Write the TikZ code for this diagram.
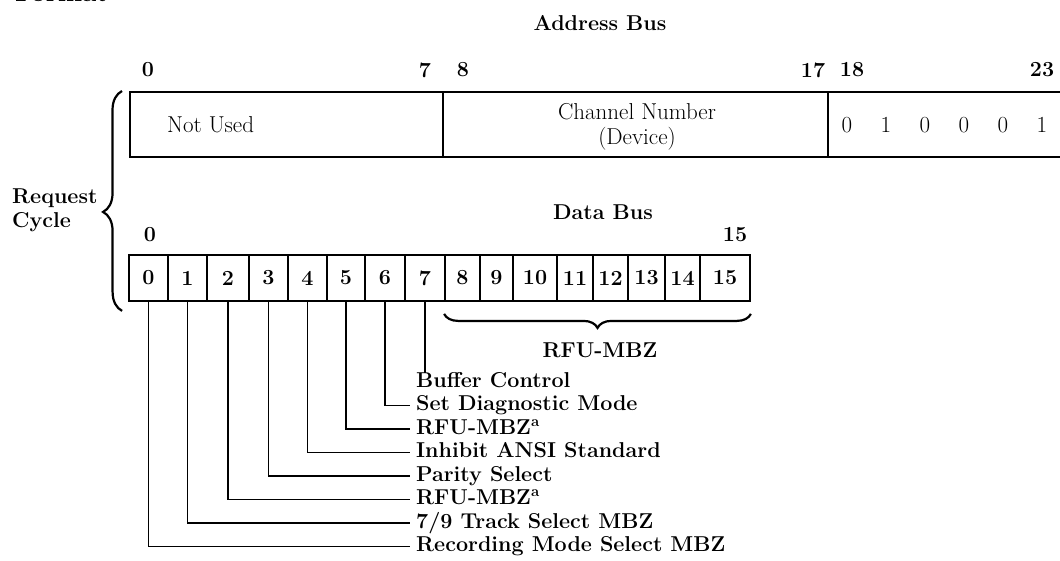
\documentclass[tikz,border=0pt]{standalone}
\usetikzlibrary{decorations.pathreplacing,positioning}

\begin{document}
\begin{tikzpicture}[x=1pt,y=-1pt,every node/.style={font=\bfseries\fontsize{21.5}{24}\selectfont,inner sep=0pt},lite/.style={font=\fontsize{23}{25}\selectfont},field/.style={draw,line width=2pt,minimum height=65pt},cell/.style={draw,line width=1.8pt,minimum height=46pt},lead/.style={line width=1.7pt},bitlbl/.style={anchor=west,inner xsep=6pt,text height=14pt,text depth=4pt},brc/.style={decorate,line width=2.2pt}]
\fill[white] (0,0) rectangle (1060,560);
\useasboundingbox (0,0) rectangle (1060,560);

\node[font=\bfseries\fontsize{26}{28}\selectfont,anchor=base west] (fmt) at (15,1.5) {Format};
\node (abus) at (600,23) {Address Bus};
\foreach \t/\x in {0/148,7/425,8/463,17/813,18/852,23/1042} \node (a\t) at (\x,70) {\t};

\node[field,minimum width=313pt] (notused) at (286.5,124.5) {}; \node[field,minimum width=385pt] (chan) at (635.5,124.5) {}; \node[field,minimum width=250pt] (code) at (953,124.5) {};
\node[lite,anchor=west] (nu) at (167,125) {Not Used};
\node[lite,align=center] (chn) at (637,127) {Channel Number\\(Device)};
\foreach \b [count=\k] in {0,1,0,0,0,1} \node[lite] (d\k) at (808+39*\k,125) {\b};

\node[align=left,anchor=west] (req) at (12,210) {Request\\Cycle};
\node (dbus) at (603,212) {Data Bus};
\node (b0) at (150,235) {0}; \node (b15) at (735,235) {15};
\foreach \i/\l/\r in {0/129/168,1/168/207,2/207/249,3/249/288,4/288/327,5/327/365,6/365/405,7/405/445,8/445/480,9/480/513,10/513/557,11/557/593,12/593/628,13/628/665,14/665/700,15/700/750} \node[cell,minimum width={(\r-\l)*1pt}] (c\i) at ({(\l+\r)/2},278) {\i};

\draw[brc,decoration={brace,amplitude=19pt,aspect=0.45}] ([xshift=-6pt,yshift=-9pt]c0.south west) -- ([xshift=-7pt]notused.north west);
\draw[brc,decoration={brace,mirror,amplitude=14pt}] ([yshift=-12pt]c8.south west) -- ([yshift=-12pt]c15.south east);
\node (rfu) at (600,350) {RFU-MBZ};

\foreach \i/\t [count=\k from 0] in {7/{Buffer Control},6/{Set Diagnostic Mode},5/{RFU-MBZ\textsuperscript{a}},4/{Inhibit ANSI Standard},3/{Parity Select},2/{RFU-MBZ\textsuperscript{a}},1/{7/9 Track Select MBZ},0/{Recording Mode Select MBZ}} \node[bitlbl] (l\i) at (410,{382+23.5*\k}) {\t};
\draw[lead] (c7.south) -- (c7.south |- l7.north);
\foreach \i in {0,...,6} \draw[lead] (c\i.south) |- (l\i.west);

\end{tikzpicture}
\end{document}
